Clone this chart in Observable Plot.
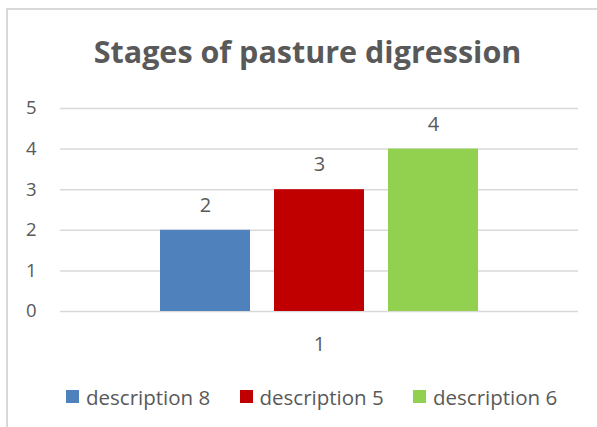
<!DOCTYPE html>
<html>
<head>
<meta charset="utf-8">
<script src="https://cdn.jsdelivr.net/npm/d3@7"></script>
<script src="https://cdn.jsdelivr.net/npm/@observablehq/plot@0.6"></script>
<style>
  html, body { margin: 0; padding: 0; background: #fff; }
  #chart { position: relative; width: 597px; height: 427px; overflow: hidden; font-family: "Open Sans", Lato, sans-serif; color: #595959; }
  #frame { position: absolute; left: 6px; top: 8px; width: 640px; height: 460px; border-left: 2px solid #d9d9d9; border-top: 2px solid #d9d9d9; }
  #title { position: absolute; left: 0; top: 32px; width: 615px; text-align: center; font-weight: bold; font-size: 30.5px; line-height: 38px; white-space: nowrap; }
  #plot { position: absolute; left: 0; top: 80px; }
  #legend { position: absolute; left: 66px; top: 383px; display: flex; align-items: center; height: 27px; }
  .item { display: flex; align-items: center; width: 173.5px; font-size: 20.5px; white-space: nowrap; }
  .sw { width: 13px; height: 13px; margin-right: 7px; flex: none; }
</style>
</head>
<body>
<div id="chart">
  <div id="frame"></div>
  <div id="title"></div>
  <div id="plot"></div>
  <div id="legend"></div>
</div>
<script>
const titleText = "Stages of pasture digression";
const categories = ["1"];
const series = ["description 8", "description 5", "description 6"];
const values = [2, 3, 4];
const colors = ["#4F81BD", "#C00000", "#92D050"];
const yTicks = [0, 1, 2, 3, 4, 5];

const data = series.map((s, i) => ({cat: categories[0], series: s, value: values[i]}));

document.getElementById("title").textContent = titleText;

const chart = Plot.plot({
  width: 597,
  height: 290,
  marginTop: 28,
  marginBottom: 59,
  marginLeft: 60,
  marginRight: 19,
  style: {fontFamily: "'Open Sans', Lato, sans-serif", color: "#595959", background: "transparent"},
  fx: {domain: categories, padding: 0, label: null},
  x: {domain: series, paddingInner: 0.209, paddingOuter: 0.861, axis: null},
  y: {domain: [0, 5], ticks: yTicks, label: null},
  color: {domain: series, range: colors},
  marks: [
    Plot.gridY(yTicks, {stroke: "#d9d9d9", strokeOpacity: 1, strokeWidth: 1.5}),
    Plot.axisY(yTicks, {tickSize: 0, tickPadding: 24, fontSize: 18.5, label: null, fill: "#595959"}),
    Plot.axisFx({anchor: "bottom", tickSize: 0, tickPadding: 25, fontSize: 20, label: null, fill: "#595959"}),
    Plot.barY(data, {fx: "cat", x: "series", y: "value", fill: "series"}),
    Plot.text(data, {fx: "cat", x: "series", y: "value", text: d => String(d.value), dy: -25, fontSize: 20, fill: "#595959"})
  ]
});
document.getElementById("plot").appendChild(chart);

const legend = document.getElementById("legend");
series.forEach((s, i) => {
  const item = document.createElement("div");
  item.className = "item";
  const sw = document.createElement("span");
  sw.className = "sw";
  sw.style.background = colors[i];
  const t = document.createElement("span");
  t.textContent = s;
  item.appendChild(sw);
  item.appendChild(t);
  legend.appendChild(item);
});
</script>
</body>
</html>
